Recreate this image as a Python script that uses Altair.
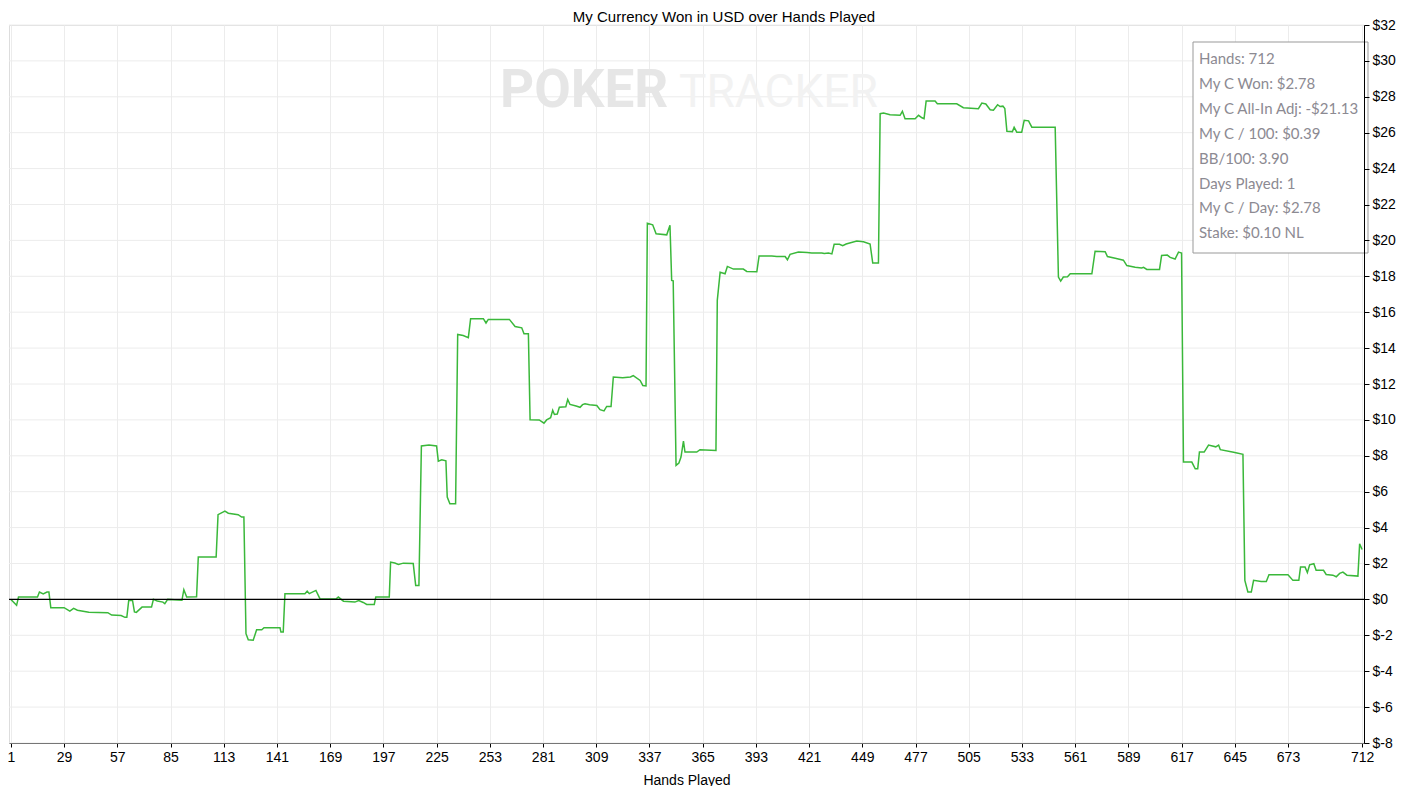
import altair as alt
import pandas as pd

# ---- data ----
hands = [1, 4, 5, 15, 16, 18, 20, 21, 22, 29, 32, 34, 36, 42, 52, 54, 59, 61, 62, 63, 65, 66, 67, 70, 75,
         76, 78, 81, 82, 83.5, 91, 92, 93.5, 98.7, 99.6, 109, 110, 113.6, 115.4, 120.6, 122.4, 123.6,
         124.7, 125.9, 128.5, 130.3, 133, 134.2, 142.6, 143.1, 144.3, 145.2, 155.7, 156.9, 158, 161.5,
         163.6, 172, 173.3, 176, 182, 184, 186.4, 188.2, 192.2, 193, 200.1, 200.8, 203, 204.9, 207.5,
         212.7, 214, 215.7, 217, 221, 225, 225.9, 227.7, 229.9, 230.6, 232, 235, 236.1, 239, 241.7,
         242.9, 249.6, 251, 252.2, 263.3, 266.3, 269.8, 271, 273.3, 274.2, 279, 281.5, 282.9, 285,
         286.1, 287, 288.5, 289.6, 293, 294, 295.2, 298.4, 300.5, 301.8, 303.1, 305.5, 309.3, 311,
         313.1, 314.5, 316.8, 318, 322.9, 327, 328.5, 332.1, 333.5, 335.2, 335.9, 338.7, 340.5, 346.1,
         347.8, 348.7, 349.5, 351, 352.5, 353.6, 354.9, 355.7, 361.9, 363.6, 372, 372.7, 374.2, 376.8,
         378, 381.2, 386.4, 388.2, 393.5, 394.7, 401.4, 404, 408.4, 409.6, 411, 415.4, 420, 422.4,
         427.7, 429, 431.2, 433, 434.2, 437, 438.7, 440.5, 446.1, 449.6, 453.1, 454.5, 457.5, 458.4,
         460.2, 463.6, 468.9, 470.1, 471.5, 476.8, 478.6, 480.4, 481.5, 482.6, 487.3, 488.5, 498.7,
         502.2, 510.1, 511.9, 514, 516.3, 518, 520.2, 521.5, 523, 524, 525.1, 528, 528.9, 530.3, 532.9,
         534.2, 536.5, 538.2, 550.5, 552.2, 553.4, 554.8, 557, 558.4, 569.8, 571.5, 576.8, 578, 582.1,
         586.4, 588.2, 592.6, 596, 597, 598.7, 605.4, 606.5, 609.5, 611, 613.6, 615.4, 617, 618, 622.4,
         624.2, 625.5, 626.4, 628.9, 631.2, 635, 636.5, 637.4, 644.4, 649.3, 650.3, 651.9, 653.7,
         654.9, 658.9, 661.6, 663, 673, 675.6, 678.7, 679.6, 682, 683.2, 684.4, 686.6, 687.8, 691.7,
         693.1, 696.6, 698.4, 700.2, 701.9, 704, 709.8, 710.7, 712]
won = [0.0, -0.33, 0.13, 0.13, 0.41, 0.30, 0.41, 0.41, -0.46, -0.46, -0.65, -0.50, -0.60, -0.72, -0.74,
       -0.87, -0.90, -1.00, -1.00, -0.06, -0.06, -0.70, -0.72, -0.43, -0.43,
       0.0, -0.09, -0.15, -0.24, 0.0, -0.05, 0.54, 0.13, 0.15, 2.36, 2.36, 4.72, 4.92, 4.80, 4.72, 4.59, 4.59,
       -1.91, -2.25, -2.27, -1.69, -1.69, -1.58, -1.58, -1.82, -1.82, 0.32, 0.32, 0.46, 0.32, 0.50,
       0.04, 0.02, 0.13, -0.10, -0.15, -0.06, -0.17, -0.28, -0.28, 0.13, 0.13, 2.08, 2.03, 1.95, 2.02,
       2.00, 0.78, 0.78, 8.55, 8.60, 8.55, 7.70, 7.78, 7.72, 5.70, 5.33, 5.33, 14.76, 14.70, 14.58,
       15.64, 15.64, 15.40, 15.60, 15.60, 15.20, 15.13, 14.80, 14.80, 10.01, 10.00, 9.82, 10.00, 10.12,
       10.53, 10.30, 10.33, 10.71, 10.73, 11.14, 10.86, 10.77, 10.70, 10.85, 10.90, 10.85, 10.80, 10.57,
       10.50, 10.75, 10.75, 12.39, 12.35, 12.39, 12.47, 12.20, 11.92, 11.90, 20.96, 20.87, 20.37, 20.31,
       20.84, 17.77, 17.75, 7.47, 7.60, 7.93, 8.82, 8.21, 8.21, 8.34, 8.30, 16.66, 18.23, 18.14,
       18.55, 18.40, 18.40, 18.27, 18.25, 19.13, 19.13, 19.10, 19.10, 18.92, 19.22, 19.35, 19.33, 19.30,
       19.30, 19.27, 19.30, 19.25, 19.78, 19.78, 19.70, 19.80, 19.96, 19.92, 19.80, 18.74, 18.74, 27.06,
       27.10, 27.00, 26.97, 27.19, 26.78, 26.78, 26.97, 26.83, 26.78, 27.76, 27.76, 27.61, 27.61,
       27.39, 27.34, 27.65, 27.60, 27.28, 27.25, 27.56, 27.46, 27.48, 27.35, 26.08, 26.06, 26.30, 26.03, 26.03,
       26.69, 26.66, 26.31, 26.31, 17.96, 17.73, 17.96, 17.98, 18.14, 18.14, 19.40, 19.37, 19.10, 19.00,
       18.90, 18.60, 18.50, 18.46, 18.50, 18.38, 18.38, 19.16, 19.18, 19.05, 18.96, 19.35, 19.30, 7.65, 7.65,
       7.28, 7.28, 8.21, 8.21, 8.60, 8.50, 8.60, 8.34, 8.20, 8.08, 1.06, 0.41, 0.41,
       1.06, 1.00, 1.00, 1.37, 1.37, 1.06, 1.06, 1.80, 1.80, 1.50, 1.93, 1.99, 1.62, 1.62,
       1.39, 1.35, 1.26, 1.45, 1.52, 1.35, 1.30, 3.10, 2.78]

x_ticks = [1, 29, 57, 85, 113, 141, 169, 197, 225, 253, 281, 309, 337, 365, 393, 421, 449, 477,
           505, 533, 561, 589, 617, 645, 673, 712]
y_ticks = [-8, -6, -4, -2, 0, 2, 4, 6, 8, 10, 12, 14, 16, 18, 20, 22, 24, 26, 28, 30, 32]

chart_title = ["My Currency Won in USD over Hands Played"]
x_title = "Hands Played"
stats_lines = ["Hands: 712", "My C Won: $2.78", "My C All-In Adj: -$21.13", "My C / 100: $0.39",
               "BB/100: 3.90", "Days Played: 1", "My C / Day: $2.78", "Stake: $0.10 NL"]
watermark_a = ["POKER"]
watermark_b = ["TRACKER"]
zero_line = [0]

FONT = "Liberation Sans"
GRID = "#ececec"

df = pd.DataFrame({"hand": hands, "won": won})
xscale = alt.Scale(domain=[0, 713], nice=False, zero=False)
yscale = alt.Scale(domain=[-8, 32], nice=False, zero=False)

x_axis = alt.Axis(values=x_ticks, title=x_title, grid=True, gridColor=GRID,
                  labelFont=FONT, labelFontSize=14, labelColor="#000", labelPadding=3,
                  labelFlush=False, labelOverlap=False, tickColor="#000", tickSize=4,
                  domainColor="#000", titleFont=FONT, titleFontSize=14,
                  titleFontWeight="normal", titleColor="#000", titlePadding=9)
y_axis = alt.Axis(orient="right", values=y_ticks, labelExpr="'$' + datum.value", title=None,
                  grid=False, labelFont=FONT, labelFontSize=14,
                  labelColor="#000", labelPadding=3, labelFlush=False, labelOverlap=False,
                  tickColor="#000", tickSize=5, domainColor="#000", zindex=1)

# horizontal grid lines, one per y tick, drawn behind everything
hgrid = alt.Chart(pd.DataFrame({"won": y_ticks})).mark_rule(color=GRID, strokeWidth=1).encode(
    y=alt.Y("won:Q", scale=yscale, axis=y_axis)
)

wm_a = alt.Chart(pd.DataFrame({"t": watermark_a})).mark_text(
    font="Roboto", fontSize=53, fontWeight="bold", color="#e6e6e6", align="left", baseline="alphabetic"
).encode(text="t:N", x=alt.value(491), y=alt.value(82))

wm_b = alt.Chart(pd.DataFrame({"t": watermark_b})).mark_text(
    font="Roboto", fontSize=46, fontWeight="normal", color="#f2f2f2", align="left", baseline="alphabetic"
).encode(text="t:N", x=alt.value(670), y=alt.value(82))

line = alt.Chart(df).mark_line(color="#3ab83a", strokeWidth=1.5).encode(
    x=alt.X("hand:Q", scale=xscale, axis=x_axis),
    y=alt.Y("won:Q", scale=yscale, axis=y_axis),
)

zero = alt.Chart(pd.DataFrame({"won": zero_line})).mark_rule(color="#000", strokeWidth=1.2).encode(
    y=alt.Y("won:Q", scale=yscale, axis=y_axis)
)

box = alt.Chart(pd.DataFrame({"k": [0]})).mark_rect(fill="white", stroke="#999999", strokeWidth=1).encode(
    x=alt.value(1184), x2=alt.value(1359), y=alt.value(17), y2=alt.value(228)
)

stats = alt.Chart(pd.DataFrame({"t": ["\n".join(stats_lines)]})).mark_text(
    font="Lato", fontSize=15, color="#8c8a92", align="left", baseline="middle",
    lineBreak="\n", lineHeight=24.9
).encode(text="t:N", x=alt.value(1190), y=alt.value(34))

title = alt.Chart(pd.DataFrame({"t": chart_title})).mark_text(
    font=FONT, fontSize=15, color="#000", align="center", baseline="alphabetic"
).encode(text="t:N", x=alt.value(715), y=alt.value(-3))

chart = alt.layer(hgrid, wm_a, wm_b, line, zero, box, stats, title).properties(
    width=1355, height=718,
    autosize=alt.AutoSizeParams(type="none"),
    padding={"left": 1, "top": 17, "right": 40, "bottom": 43},
).configure_view(stroke="#444", strokeWidth=1).configure(background="white")

chart.save("out.html", embed_options={"renderer": "svg", "actions": False})
